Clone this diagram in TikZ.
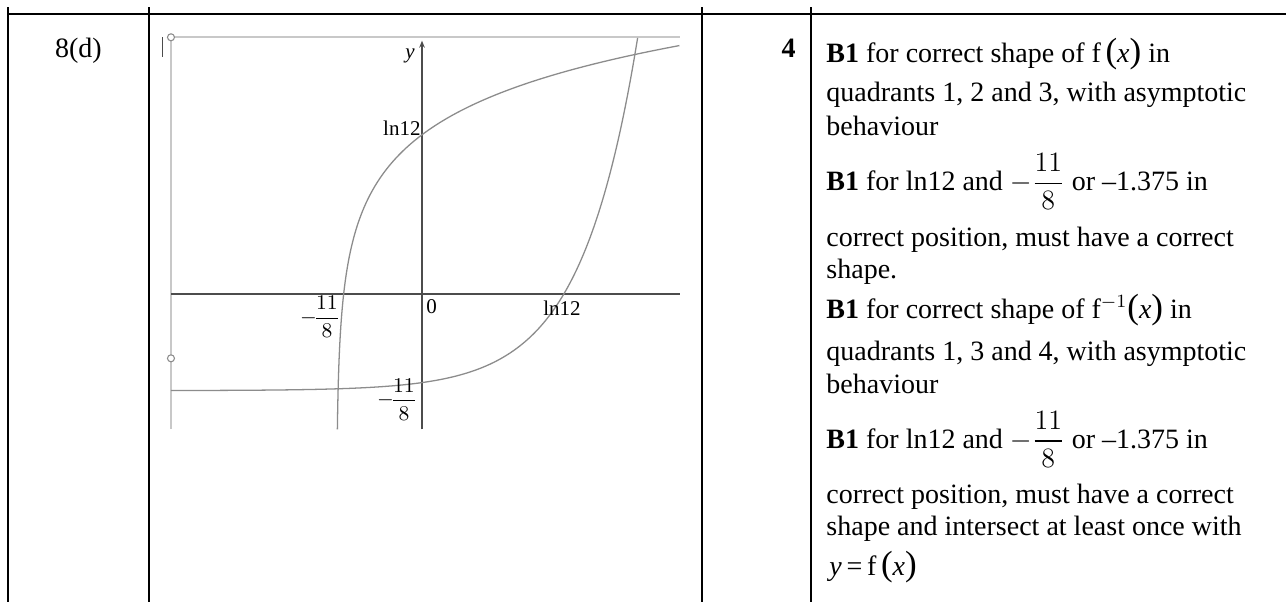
\documentclass[tikz,border=0pt]{standalone}
\usepackage{fontspec}
\setmainfont{Liberation Serif}
\usepackage{amsmath}
\usetikzlibrary{arrows.meta, positioning, calc}
\definecolor{framegray}{HTML}{C8C8C8}
\definecolor{axisgray}{HTML}{4C4C4C}
\definecolor{curvegray}{HTML}{8C8C8C}
\definecolor{holegray}{HTML}{8A8A8A}
\newcommand{\bigpar}[1]{{\fontsize{15}{15}\selectfont #1}}
\newcommand{\fofx}{f\,\bigpar{(}\textit{x}\bigpar{)}}
\newcommand{\finvofx}{f$^{-1}$\bigpar{(}\textit{x}\bigpar{)}}

\begin{document}
\begin{tikzpicture}[
    x=0.4286pt, y=-0.4286pt,
    rule/.style={line width=0.85pt, black},
    frameline/.style={line width=0.85pt, framegray},
    axis/.style={line width=0.85pt, axisgray},
    curve/.style={line width=0.55pt, curvegray, smooth},
    hole/.style={circle, draw=holegray, fill=white, line width=0.45pt, inner sep=0pt, minimum size=3pt},
    lbl/.style={inner sep=0pt, font=\fontsize{9}{11}\selectfont},
    scheme/.style={anchor=base west, inner sep=0pt, font=\fontsize{12}{14}\selectfont}
]

% Page
\fill[white] (0,0) rectangle (1286,602);
\useasboundingbox (0,0) rectangle (1286,602);

% Table
\draw[rule] (8,14) -- (1286,14);
\draw[rule] (8,7) -- (8,602);
\draw[rule] (149,7) -- (149,602);
\draw[rule] (702,7) -- (702,602);
\draw[rule] (811,7) -- (811,602);

\node[anchor=base, inner sep=0pt, font=\fontsize{12}{14}\selectfont] (part) at (78.5,57) {8(d)};
\node[anchor=base east, inner sep=0pt, font=\fontsize{12}{14}\selectfont\bfseries] (marks) at (796,57) {4};

% Graph
\begin{scope}[shift={(422,294.3)}, x=24.43pt, y=27.52pt]
    \coordinate (tl) at (-4.404,4.003);
    \coordinate (tr) at (4.526,4.003);
    \coordinate (bl) at (-4.404,-2.103);
    \coordinate (xl) at (-4.404,0);
    \coordinate (xr) at (4.526,0);
    \coordinate (yb) at (0,-2.103);
    \coordinate (yt) at (0,3.95);

    \draw[frameline] (tl) -- (tr);
    \draw[frameline] (tl) -- (bl);
    \draw[line width=0.4pt, axisgray] (-4.561,4.0) -- (-4.561,3.70);

    \draw[axis] (xl) -- (xr);
    \draw[axis, -{Stealth[length=3pt, width=2.4pt]}] (yb) -- (yt);

    % Curves
    \draw[curve] plot[domain=-2.103:3.876, samples=140, variable=\t] ({(exp(\t)-12)/8}, {\t});
    \draw[curve] plot[domain=-4.404:3.785, samples=140, variable=\t] ({\t}, {(exp(\t)-12)/8});

    \node[hole] (h1) at (tl) {};
    \node[hole] (h2) at (-4.404,-0.997) {};
\end{scope}

% Labels
\node[lbl, anchor=center] (ylab) at (410,56) {\textit{y}};
\node[lbl, anchor=east] (lnyaxis) at (421,128.5) {ln12};
\node[lbl, anchor=north west] (zero) at (426,299) {0};
\node[lbl, anchor=center] (lnxaxis) at (562,308) {ln12};
\node[lbl, anchor=east] (fracx) at (341,317) {$-\!\dfrac{11}{8}$};
\node[lbl, anchor=east] (fracy) at (418,399.5) {$-\!\dfrac{11}{8}$};

% Mark scheme
\node[scheme] (b1a) at (826,62) {\textbf{B1} for correct shape of \fofx\ in};
\node[scheme] (q1) at (826,101.7) {quadrants 1, 2 and 3, with asymptotic};
\node[scheme] (bh1) at (826,135) {behaviour};
\node[scheme] (b1b) at (826,190.7) {\textbf{B1} for ln12 and $-\dfrac{11}{8}$ or --1.375 in};
\node[scheme] (cp1) at (826,246.7) {correct position, must have a correct};
\node[scheme] (sh1) at (826,278) {shape.};
\node[scheme] (b1c) at (826,318) {\textbf{B1} for correct shape of \finvofx\ in};
\node[scheme] (q2) at (826,360) {quadrants 1, 3 and 4, with asymptotic};
\node[scheme] (bh2) at (826,393) {behaviour};
\node[scheme] (b1d) at (826,448) {\textbf{B1} for ln12 and $-\dfrac{11}{8}$ or --1.375 in};
\node[scheme] (cp2) at (826,503) {correct position, must have a correct};
\node[scheme] (sh2) at (826,535) {shape and intersect at least once with};
\node[scheme] (yfx) at (829,575) {\textit{y}\,=\,\fofx};

\end{tikzpicture}
\end{document}
